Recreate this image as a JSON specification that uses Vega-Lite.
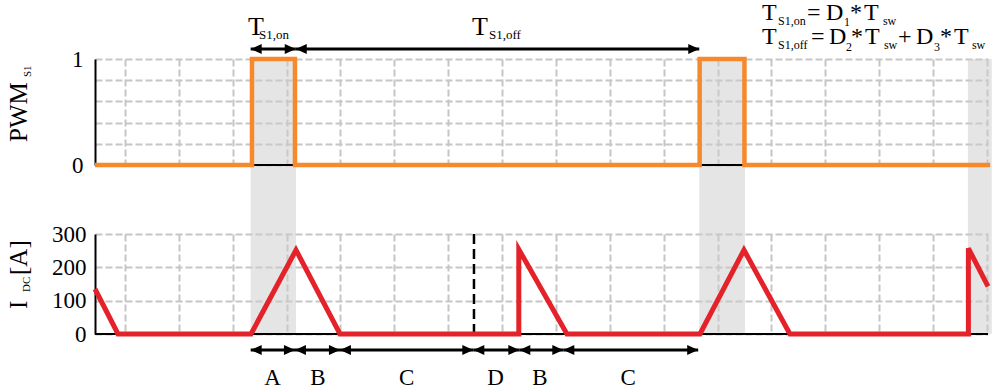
{
  "$schema": "https://vega.github.io/schema/vega-lite/v6.json",
  "background": "white",
  "padding": {"left": 7, "top": 0, "right": 5, "bottom": 5},
  "spacing": 69,
  "bounds": "flush",
  "config": {
    "view": {"stroke": null},
    "font": "Liberation Serif",
    "text": {"font": "Liberation Serif", "color": "black"},
    "axis": {
      "grid": true, "gridColor": "#c6c6c6", "gridDash": [7, 3], "gridWidth": 2,
      "ticks": false, "tickSize": 0,
      "labelFont": "Liberation Serif", "labelFontSize": 23, "labelColor": "black",
      "labelFlush": false, "labelOverlap": false,
      "domainColor": "black", "domainWidth": 2
    },
    "axisX": {"labels": false, "domain": false, "values": [0,1,2,3,4,5,6,7,8,9,10,11,12,13,14,15,16]},
    "axisY": {"domain": true}
  },
  "datasets": {
    "bands": [{"t1": 2.333, "t2": 3.174}, {"t1": 10.66, "t2": 11.508}, {"t1": 15.647, "t2": 16.09}],
    "pwm": [
      {"t": -0.557, "v": 0}, {"t": 2.357, "v": 0}, {"t": 2.357, "v": 1}, {"t": 3.155, "v": 1}, {"t": 3.155, "v": 0},
      {"t": 10.667, "v": 0}, {"t": 10.667, "v": 1}, {"t": 11.499, "v": 1}, {"t": 11.499, "v": 0}, {"t": 16.06, "v": 0}
    ],
    "idc": [
      {"t": -0.557, "i": 135}, {"t": -0.13, "i": 0}, {"t": 2.339, "i": 0}, {"t": 3.174, "i": 252},
      {"t": 3.991, "i": 0}, {"t": 7.31, "i": 0}, {"t": 7.31, "i": 254}, {"t": 8.204, "i": 0},
      {"t": 10.673, "i": 0}, {"t": 11.49, "i": 252}, {"t": 12.343, "i": 0}, {"t": 15.656, "i": 0},
      {"t": 15.656, "i": 257}, {"t": 16.02, "i": 143}
    ],
    "arrowsTop": [{"a": 2.333, "b": 3.17}, {"a": 3.17, "b": 10.66}],
    "arrowsBottom": [
      {"a": 2.333, "b": 3.155}, {"a": 3.155, "b": 3.99}, {"a": 3.99, "b": 6.466},
      {"a": 6.466, "b": 7.32}, {"a": 7.32, "b": 8.136}, {"a": 8.136, "b": 10.64}
    ],
    "labelsBottom": [
      {"m": 2.74, "s": "A"}, {"m": 3.58, "s": "B"}, {"m": 5.23, "s": "C"},
      {"m": 6.88, "s": "D"}, {"m": 7.70, "s": "B"}, {"m": 9.34, "s": "C"}
    ],
    "topMain": [{"u": 2.283, "v": 1.226, "s": "T"}, {"u": 6.441, "v": 1.226, "s": "T"}],
    "topSub": [{"u": 2.487, "v": 1.193, "s": "S1,on"}, {"u": 6.756, "v": 1.193, "s": "S1,off"}],
    "formulaMain": [
      {"u": 11.824, "v": 1.368, "s": "T"}, {"u": 12.659, "v": 1.368, "s": "="}, {"u": 13.012, "v": 1.368, "s": "D"},
      {"u": 13.457, "v": 1.368, "s": "*"}, {"u": 13.717, "v": 1.368, "s": "T"},
      {"u": 11.824, "v": 1.1415, "s": "T"}, {"u": 12.733, "v": 1.1415, "s": "="}, {"u": 13.067, "v": 1.1415, "s": "D"},
      {"u": 13.476, "v": 1.1415, "s": "*"}, {"u": 13.735, "v": 1.1415, "s": "T"}, {"u": 14.35, "v": 1.1415, "s": "+"},
      {"u": 14.682, "v": 1.1415, "s": "D"}, {"u": 15.128, "v": 1.1415, "s": "*"}, {"u": 15.387, "v": 1.1415, "s": "T"}
    ],
    "formulaSub": [
      {"u": 12.121, "v": 1.321, "s": "S1,on"}, {"u": 13.346, "v": 1.31, "s": "1"}, {"u": 14.07, "v": 1.321, "s": "sw"},
      {"u": 12.121, "v": 1.09, "s": "S1,off"}, {"u": 13.383, "v": 1.08, "s": "2"}, {"u": 14.088, "v": 1.09, "s": "sw"},
      {"u": 15.016, "v": 1.08, "s": "3"}, {"u": 15.722, "v": 1.09, "s": "sw"}
    ],
    "titleTopMain": [{"u": -1.819, "v": 0.217, "s": "PWM"}],
    "titleTopSub": [{"u": -1.75, "v": 0.83, "s": "S1"}],
    "titleBotMain": [{"u": -1.819, "i": 75, "s": "I"}, {"u": -1.819, "i": 177, "s": "[A]"}],
    "titleBotSub": [{"u": -1.77, "i": 126, "s": "DC"}],
    "one": [{}]
  },
  "vconcat": [
    {
      "width": 893,
      "height": 106,
      "layer": [
        {
          "data": {"name": "bands"},
          "mark": {"type": "rect", "fill": "#cccccc", "opacity": 0.5},
          "encoding": {
            "x": {"field": "t1", "type": "quantitative", "title": null, "scale": {"domain": [-0.557, 16.02], "nice": false, "zero": false}},
            "x2": {"field": "t2"},
            "y": {"datum": 1, "type": "quantitative", "title": null, "scale": {"domain": [0, 1], "nice": false, "zero": false},
              "axis": {"values": [0, 0.2, 0.4, 0.6, 0.8, 1], "labelExpr": "datum.value == 0 ? '0' : datum.value == 1 ? '1' : ''", "labelPadding": 12}},
            "y2": {"datum": -0.651}
          }
        },
        {
          "data": {"name": "one"},
          "mark": {"type": "rule", "color": "black", "strokeWidth": 2},
          "encoding": {"y": {"datum": 0, "type": "quantitative", "title": null,
            "axis": {"values": [0, 0.2, 0.4, 0.6, 0.8, 1], "labelExpr": "datum.value == 0 ? '0' : datum.value == 1 ? '1' : ''", "labelPadding": 12}}}
        },
        {
          "data": {"name": "pwm"},
          "mark": {"type": "line", "color": "#f5892c", "strokeWidth": 4.5, "strokeJoin": "miter", "strokeCap": "butt"},
          "encoding": {
            "x": {"field": "t", "type": "quantitative", "title": null},
            "y": {"field": "v", "type": "quantitative", "title": null,
              "axis": {"values": [0, 0.2, 0.4, 0.6, 0.8, 1], "labelExpr": "datum.value == 0 ? '0' : datum.value == 1 ? '1' : ''", "labelPadding": 12}},
            "order": {"value": null}
          }
        },
        {
          "data": {"name": "arrowsTop"},
          "mark": {"type": "rule", "color": "black", "strokeWidth": 3},
          "encoding": {
            "x": {"field": "a", "type": "quantitative", "title": null},
            "x2": {"field": "b"},
            "y": {"datum": 1.094, "type": "quantitative", "title": null,
              "axis": {"values": [0, 0.2, 0.4, 0.6, 0.8, 1], "labelExpr": "datum.value == 0 ? '0' : datum.value == 1 ? '1' : ''", "labelPadding": 12}}
          }
        },
        {
          "data": {"name": "arrowsTop"},
          "mark": {"type": "point", "shape": "M0,0L1,-0.45L1,0.45Z", "filled": true, "color": "black", "opacity": 1, "size": 484, "strokeWidth": 0},
          "encoding": {
            "x": {"field": "a", "type": "quantitative", "title": null},
            "y": {"datum": 1.094, "type": "quantitative", "title": null,
              "axis": {"values": [0, 0.2, 0.4, 0.6, 0.8, 1], "labelExpr": "datum.value == 0 ? '0' : datum.value == 1 ? '1' : ''", "labelPadding": 12}}
          }
        },
        {
          "data": {"name": "arrowsTop"},
          "mark": {"type": "point", "shape": "M0,0L-1,-0.45L-1,0.45Z", "filled": true, "color": "black", "opacity": 1, "size": 484, "strokeWidth": 0},
          "encoding": {
            "x": {"field": "b", "type": "quantitative", "title": null},
            "y": {"datum": 1.094, "type": "quantitative", "title": null,
              "axis": {"values": [0, 0.2, 0.4, 0.6, 0.8, 1], "labelExpr": "datum.value == 0 ? '0' : datum.value == 1 ? '1' : ''", "labelPadding": 12}}
          }
        },
        {
          "data": {"name": "topMain"},
          "mark": {"type": "text", "fontSize": 26, "align": "left", "baseline": "alphabetic", "font": "Liberation Serif"},
          "encoding": {
            "x": {"field": "u", "type": "quantitative", "title": null},
            "y": {"field": "v", "type": "quantitative", "title": null,
              "axis": {"values": [0, 0.2, 0.4, 0.6, 0.8, 1], "labelExpr": "datum.value == 0 ? '0' : datum.value == 1 ? '1' : ''", "labelPadding": 12}},
            "text": {"field": "s"}
          }
        },
        {
          "data": {"name": "topSub"},
          "mark": {"type": "text", "fontSize": 13, "align": "left", "baseline": "alphabetic", "font": "Liberation Serif"},
          "encoding": {
            "x": {"field": "u", "type": "quantitative", "title": null},
            "y": {"field": "v", "type": "quantitative", "title": null,
              "axis": {"values": [0, 0.2, 0.4, 0.6, 0.8, 1], "labelExpr": "datum.value == 0 ? '0' : datum.value == 1 ? '1' : ''", "labelPadding": 12}},
            "text": {"field": "s"}
          }
        },
        {
          "data": {"name": "formulaMain"},
          "mark": {"type": "text", "fontSize": 24, "align": "left", "baseline": "alphabetic", "font": "Liberation Serif"},
          "encoding": {
            "x": {"field": "u", "type": "quantitative", "title": null},
            "y": {"field": "v", "type": "quantitative", "title": null,
              "axis": {"values": [0, 0.2, 0.4, 0.6, 0.8, 1], "labelExpr": "datum.value == 0 ? '0' : datum.value == 1 ? '1' : ''", "labelPadding": 12}},
            "text": {"field": "s"}
          }
        },
        {
          "data": {"name": "formulaSub"},
          "mark": {"type": "text", "fontSize": 12, "align": "left", "baseline": "alphabetic", "font": "Liberation Serif"},
          "encoding": {
            "x": {"field": "u", "type": "quantitative", "title": null},
            "y": {"field": "v", "type": "quantitative", "title": null,
              "axis": {"values": [0, 0.2, 0.4, 0.6, 0.8, 1], "labelExpr": "datum.value == 0 ? '0' : datum.value == 1 ? '1' : ''", "labelPadding": 12}},
            "text": {"field": "s"}
          }
        },
        {
          "data": {"name": "titleTopMain"},
          "mark": {"type": "text", "fontSize": 25, "align": "left", "baseline": "alphabetic", "angle": 270, "font": "Liberation Serif"},
          "encoding": {
            "x": {"field": "u", "type": "quantitative", "title": null},
            "y": {"field": "v", "type": "quantitative", "title": null,
              "axis": {"values": [0, 0.2, 0.4, 0.6, 0.8, 1], "labelExpr": "datum.value == 0 ? '0' : datum.value == 1 ? '1' : ''", "labelPadding": 12}},
            "text": {"field": "s"}
          }
        },
        {
          "data": {"name": "titleTopSub"},
          "mark": {"type": "text", "fontSize": 11, "align": "left", "baseline": "alphabetic", "angle": 270, "font": "Liberation Serif"},
          "encoding": {
            "x": {"field": "u", "type": "quantitative", "title": null},
            "y": {"field": "v", "type": "quantitative", "title": null,
              "axis": {"values": [0, 0.2, 0.4, 0.6, 0.8, 1], "labelExpr": "datum.value == 0 ? '0' : datum.value == 1 ? '1' : ''", "labelPadding": 12}},
            "text": {"field": "s"}
          }
        }
      ]
    },
    {
      "width": 893,
      "height": 100,
      "layer": [
        {
          "data": {"name": "bands"},
          "mark": {"type": "rect", "fill": "#cccccc", "opacity": 0.5},
          "encoding": {
            "x": {"field": "t1", "type": "quantitative", "title": null, "scale": {"domain": [-0.557, 16.02], "nice": false, "zero": false}},
            "x2": {"field": "t2"},
            "y": {"datum": 0, "type": "quantitative", "title": null, "scale": {"domain": [0, 300], "nice": false, "zero": false},
              "axis": {"values": [0, 100, 200, 300], "labelPadding": 9}},
            "y2": {"datum": 300}
          }
        },
        {
          "data": {"name": "one"},
          "mark": {"type": "rule", "color": "black", "strokeWidth": 2},
          "encoding": {"y": {"datum": 0, "type": "quantitative", "title": null, "axis": {"values": [0, 100, 200, 300], "labelPadding": 9}}}
        },
        {
          "data": {"name": "one"},
          "mark": {"type": "rule", "color": "black", "strokeWidth": 2.5, "strokeDash": [10, 5]},
          "encoding": {"x": {"datum": 6.478, "type": "quantitative", "title": null}}
        },
        {
          "data": {"name": "idc"},
          "mark": {"type": "line", "color": "#e3222a", "strokeWidth": 5, "strokeJoin": "miter", "strokeCap": "butt"},
          "encoding": {
            "x": {"field": "t", "type": "quantitative", "title": null},
            "y": {"field": "i", "type": "quantitative", "title": null, "axis": {"values": [0, 100, 200, 300], "labelPadding": 9}},
            "order": {"value": null}
          }
        },
        {
          "data": {"name": "arrowsBottom"},
          "mark": {"type": "rule", "color": "black", "strokeWidth": 3},
          "encoding": {
            "x": {"field": "a", "type": "quantitative", "title": null},
            "x2": {"field": "b"},
            "y": {"datum": -48, "type": "quantitative", "title": null, "axis": {"values": [0, 100, 200, 300], "labelPadding": 9}}
          }
        },
        {
          "data": {"name": "arrowsBottom"},
          "mark": {"type": "point", "shape": "M0,0L1,-0.45L1,0.45Z", "filled": true, "color": "black", "opacity": 1, "size": 484, "strokeWidth": 0},
          "encoding": {
            "x": {"field": "a", "type": "quantitative", "title": null},
            "y": {"datum": -48, "type": "quantitative", "title": null, "axis": {"values": [0, 100, 200, 300], "labelPadding": 9}}
          }
        },
        {
          "data": {"name": "arrowsBottom"},
          "mark": {"type": "point", "shape": "M0,0L-1,-0.45L-1,0.45Z", "filled": true, "color": "black", "opacity": 1, "size": 484, "strokeWidth": 0},
          "encoding": {
            "x": {"field": "b", "type": "quantitative", "title": null},
            "y": {"datum": -48, "type": "quantitative", "title": null, "axis": {"values": [0, 100, 200, 300], "labelPadding": 9}}
          }
        },
        {
          "data": {"name": "labelsBottom"},
          "mark": {"type": "text", "fontSize": 23, "align": "center", "baseline": "alphabetic", "font": "Liberation Serif"},
          "encoding": {
            "x": {"field": "m", "type": "quantitative", "title": null},
            "y": {"datum": -153, "type": "quantitative", "title": null, "axis": {"values": [0, 100, 200, 300], "labelPadding": 9}},
            "text": {"field": "s"}
          }
        },
        {
          "data": {"name": "titleBotMain"},
          "mark": {"type": "text", "fontSize": 25, "align": "left", "baseline": "alphabetic", "angle": 270, "font": "Liberation Serif"},
          "encoding": {
            "x": {"field": "u", "type": "quantitative", "title": null},
            "y": {"field": "i", "type": "quantitative", "title": null, "axis": {"values": [0, 100, 200, 300], "labelPadding": 9}},
            "text": {"field": "s"}
          }
        },
        {
          "data": {"name": "titleBotSub"},
          "mark": {"type": "text", "fontSize": 11, "align": "left", "baseline": "alphabetic", "angle": 270, "font": "Liberation Serif"},
          "encoding": {
            "x": {"field": "u", "type": "quantitative", "title": null},
            "y": {"field": "i", "type": "quantitative", "title": null, "axis": {"values": [0, 100, 200, 300], "labelPadding": 9}},
            "text": {"field": "s"}
          }
        }
      ]
    }
  ]
}
